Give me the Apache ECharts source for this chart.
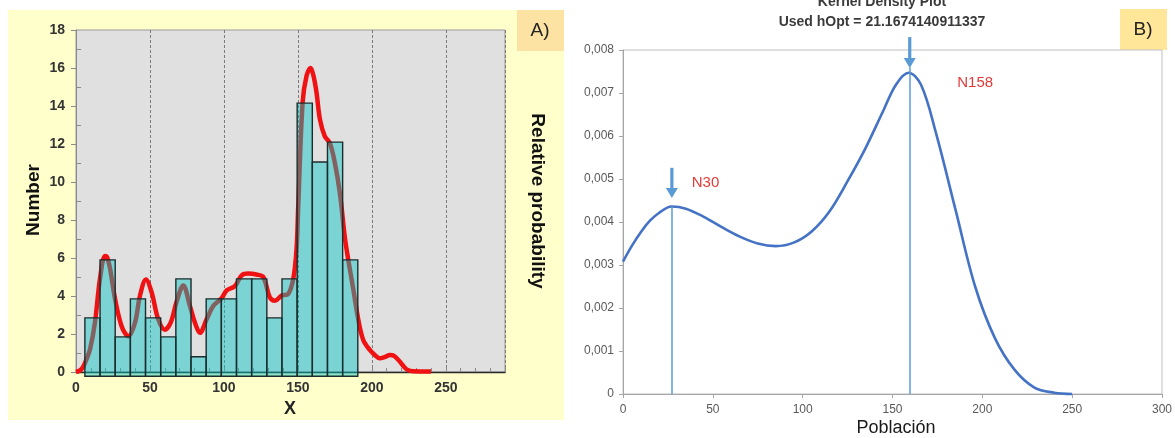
<!DOCTYPE html>
<html><head><meta charset="utf-8">
<script src="https://cdn.jsdelivr.net/npm/echarts@6/dist/echarts.min.js"></script>
<style>html,body{margin:0;padding:0;background:#fff}#c{width:1175px;height:438px}</style>
</head><body><div id="c"></div>
<script>
// ---- Panel A: histogram + kernel density (Number vs X)
const histEdges = [6, 16.25, 26.5, 36.75, 47, 57.25, 67.5, 77.75, 88, 98.25, 108.5, 118.75, 129, 139.25, 149.5, 159.75, 170, 180.25, 190.5];
const histCounts = [2.85, 5.9, 1.85, 3.85, 2.85, 1.85, 4.9, 0.8, 3.85, 3.85, 4.9, 4.9, 2.85, 4.9, 14.15, 11.05, 12.1, 5.9];
const histBase = -0.22;
const redKdeX = [0, 3, 5, 7, 9.5, 12.8, 16.2, 19.6, 21, 23, 26.4, 30.9, 35.4, 39.9, 43.2, 47.3, 51.1, 55.6, 60, 64, 68, 72.5, 77, 80.4, 83.8, 88.3, 92.8, 98.4, 101.8, 107.4, 112, 116.4, 122, 126.6, 131, 134.5, 139, 143.5, 146.9, 149.1, 150.2, 153.2, 155.9, 158.6, 160.5, 162.6, 164.9, 168.2, 171.6, 175, 178.4, 181.8, 184, 187.4, 190.8, 194.1, 198.6, 202, 205.4, 209, 212.2, 215, 219, 222, 224.6, 228, 240];
const redKdeY = [0, 0.1, 0.3, 0.65, 1.2, 2.6, 4.9, 6.1, 6.05, 5.45, 3.85, 2.4, 1.88, 2.6, 4.0, 4.87, 4.2, 2.77, 2.23, 2.6, 3.7, 4.55, 3.48, 2.6, 2.06, 2.77, 3.48, 3.88, 4.29, 4.52, 5.09, 5.18, 5.13, 5.0, 3.93, 3.75, 4.02, 4.11, 4.91, 6.5, 8.66, 14.2, 15.6, 16.0, 15.6, 14.7, 13.3, 12.4, 12.05, 11.0, 9.4, 7.05, 5.93, 4.38, 2.77, 1.7, 1.16, 0.9, 0.72, 0.8, 0.9, 0.85, 0.54, 0.25, 0.09, 0.04, 0.03];

// ---- Panel B: kernel density plot (Población)
const kdeX = [0, 5, 10, 15, 20, 27, 35, 45, 55, 65, 75, 85, 95, 105, 115, 125, 135, 145, 152, 159, 166, 174, 185, 196, 207, 218, 229, 240, 250];
const kdeY = [0.00308, 0.00345, 0.00377, 0.00403, 0.00421, 0.00436, 0.00431, 0.00412, 0.00388, 0.00366, 0.0035, 0.00344, 0.00352, 0.00378, 0.00425, 0.00495, 0.00572, 0.0066, 0.0072, 0.00747, 0.00718, 0.0061, 0.0043, 0.0025, 0.0013, 0.00056, 0.00015, 0.00003, 0.0];
const peakNames = ['N30', 'N158'];
const peakX = [27.2, 159.6];
const peakLineTop = [0.00436, 0.0076];
const arrowFrom = [0.00526, 0.0083];
const arrowTo = [0.00456, 0.00758];
const peakLabelX = [45.9, 196];
const peakLabelY = [0.0049, 0.00723];

const FF = 'Liberation Sans, Arial, sans-serif';

const redData = redKdeX.map((x, i) => [x, redKdeY[i]]);
const histData = histCounts.map((c, i) => [histEdges[i], histEdges[i + 1], c]);
const kdeData = kdeX.map((x, i) => [x, kdeY[i]]);
const arrowData = peakX.map((x, i) => [x, arrowFrom[i], arrowTo[i]]);

const markLines = peakX.map((x, i) => [{coord: [x, 0], symbol: 'none'}, {coord: [x, peakLineTop[i]], symbol: 'none'}]);
const markPoints = peakNames.map((n, i) => ({
  coord: [peakLabelX[i], peakLabelY[i]], symbol: 'circle', symbolSize: 1,
  itemStyle: {color: 'rgba(0,0,0,0)'},
  label: {show: true, formatter: n, position: 'inside', color: '#E23A3A', fontSize: 15, fontFamily: FF}
}));

const chart = echarts.init(document.getElementById('c'), null, {renderer: 'canvas'});
chart.setOption({
  animation: false,
  backgroundColor: '#ffffff',
  graphic: [
    {type: 'rect', z: -100, shape: {x: 8, y: 10, width: 556, height: 410}, style: {fill: '#FFFFCC'}},
    {type: 'rect', z: -90, shape: {x: 517, y: 10, width: 47, height: 41}, style: {fill: '#FDE3A3'}},
    {type: 'text', x: 540, y: 31, style: {text: 'A)', fontSize: 19, fontFamily: FF, fill: '#222', align: 'center', verticalAlign: 'middle'}},
    {type: 'rect', z: -90, shape: {x: 1120, y: 9, width: 47, height: 41}, style: {fill: '#FFE699'}},
    {type: 'text', x: 1143, y: 30, style: {text: 'B)', fontSize: 19, fontFamily: FF, fill: '#222', align: 'center', verticalAlign: 'middle'}},
    {type: 'text', x: 34, y: 200, rotation: Math.PI / 2, style: {text: 'Number', fontSize: 19, fontWeight: 'bold', fontFamily: FF, fill: '#111', align: 'center', verticalAlign: 'middle'}},
    {type: 'text', x: 290, y: 409, style: {text: 'X', fontSize: 18, fontWeight: 'bold', fontFamily: FF, fill: '#222', align: 'center', verticalAlign: 'middle'}},
    {type: 'text', x: 537, y: 201, rotation: -Math.PI / 2, style: {text: 'Relative probability', fontSize: 19, fontWeight: 'bold', fontFamily: FF, fill: '#111', align: 'center', verticalAlign: 'middle'}},
    {type: 'text', x: 882, y: 2, style: {text: 'Kernel Density Plot', fontSize: 14, fontWeight: 'bold', fontFamily: FF, fill: '#3a3a3a', align: 'center', verticalAlign: 'middle'}},
    {type: 'text', x: 882, y: 22, style: {text: 'Used hOpt = 21.1674140911337', fontSize: 14, fontWeight: 'bold', fontFamily: FF, fill: '#3a3a3a', align: 'center', verticalAlign: 'middle'}},
    {type: 'text', x: 896, y: 428, style: {text: 'Población', fontSize: 18, fontFamily: FF, fill: '#1a1a1a', align: 'center', verticalAlign: 'middle'}}
  ],
  grid: [
    {left: 76, top: 30, width: 429, height: 342, show: true, backgroundColor: '#E0E0E0', borderColor: '#9a9a9a', borderWidth: 1},
    {left: 623, top: 50, width: 542, height: 344, show: true, backgroundColor: '#ffffff', borderColor: '#BFBFBF', borderWidth: 1}
  ],
  xAxis: [
    {gridIndex: 0, type: 'value', min: 0, max: 290, interval: 50,
     axisLine: {lineStyle: {color: '#8a8a8a'}},
     axisTick: {inside: true, length: 5, lineStyle: {color: '#8a8a8a'}},
     minorTick: {show: true, splitNumber: 5, length: 4, lineStyle: {color: '#8a8a8a'}},
     splitLine: {show: true, lineStyle: {type: [3, 2], color: '#7a7a7a', width: 1}},
     axisLabel: {formatter: v => (v % 50 === 0 ? String(v) : ''), fontWeight: 'bold', fontSize: 14, color: '#333', margin: 9, fontFamily: FF}},
    {gridIndex: 0, type: 'value', position: 'top', min: 0, max: 290,
     axisLine: {show: true, lineStyle: {color: '#2a2a2a', width: 1.3}}, axisTick: {show: false}, axisLabel: {show: false}, splitLine: {show: false}},
    {gridIndex: 1, type: 'value', min: 0, max: 300, interval: 50,
     axisLine: {lineStyle: {color: '#A6A6A6'}},
     axisTick: {show: true, length: 4, lineStyle: {color: '#A6A6A6'}},
     splitLine: {show: false},
     axisLabel: {fontSize: 12, color: '#595959', margin: 10, fontFamily: FF}}
  ],
  yAxis: [
    {gridIndex: 0, type: 'value', min: 0, max: 18, interval: 2,
     axisLine: {show: true, lineStyle: {color: '#8a8a8a'}},
     axisTick: {show: true, length: 5, lineStyle: {color: '#8a8a8a'}},
     splitLine: {show: false},
     axisLabel: {fontWeight: 'bold', fontSize: 14, color: '#333', margin: 11, fontFamily: FF}},
    {gridIndex: 0, type: 'value', min: 0, max: 18, interval: 2, position: 'left',
     axisLine: {show: false}, axisTick: {show: false, inside: true},
     minorTick: {show: true, splitNumber: 2, length: 5, lineStyle: {color: '#8a8a8a'}},
     axisLabel: {show: false}, splitLine: {show: false}},
    {gridIndex: 1, type: 'value', min: 0, max: 0.008, interval: 0.001,
     axisLine: {show: true, lineStyle: {color: '#A6A6A6'}},
     axisTick: {show: true, length: 4, lineStyle: {color: '#A6A6A6'}},
     splitLine: {show: false},
     axisLabel: {fontSize: 12, color: '#595959', margin: 9, fontFamily: FF,
       formatter: v => (v === 0 ? '0' : v.toFixed(3).replace('.', ','))}}
  ],
  series: [
    {type: 'line', xAxisIndex: 0, yAxisIndex: 0, data: redData, smooth: 0.35, showSymbol: false, z: 2,
     lineStyle: {color: '#F01212', width: 4.5}, silent: true},
    {type: 'custom', xAxisIndex: 0, yAxisIndex: 0, data: histData, z: 3, silent: true,
     renderItem: (params, api) => {
       const p0 = api.coord([api.value(0), histBase]);
       const p1 = api.coord([api.value(1), api.value(2)]);
       return {type: 'rect', shape: {x: p0[0], y: p1[1], width: p1[0] - p0[0], height: p0[1] - p1[1]},
               style: {fill: 'rgba(0,196,196,0.45)', stroke: '#1c2c2c', lineWidth: 1.4}};
     }},
    {type: 'line', xAxisIndex: 2, yAxisIndex: 2, data: kdeData, smooth: 0.35, showSymbol: false, clip: false, silent: true,
     lineStyle: {color: '#4472C4', width: 2.6},
     markLine: {silent: true, animation: false, label: {show: false},
       lineStyle: {color: '#5B9BD5', width: 1.5, type: 'solid'}, data: markLines},
     markPoint: {silent: true, animation: false, data: markPoints}},
    {type: 'custom', xAxisIndex: 2, yAxisIndex: 2, data: arrowData, z: 5, silent: true,
     renderItem: (params, api) => {
       const a = api.coord([api.value(0), api.value(1)]);
       const b = api.coord([api.value(0), api.value(2)]);
       const head = 10, hw = 6;
       return {type: 'group', children: [
         {type: 'line', shape: {x1: a[0], y1: a[1], x2: b[0], y2: b[1] - head + 1}, style: {stroke: '#5B9BD5', lineWidth: 3.2}},
         {type: 'polygon', shape: {points: [[b[0] - hw, b[1] - head], [b[0] + hw, b[1] - head], [b[0], b[1]]]}, style: {fill: '#5B9BD5'}}
       ]};
     }}
  ]
});
</script></body></html>
